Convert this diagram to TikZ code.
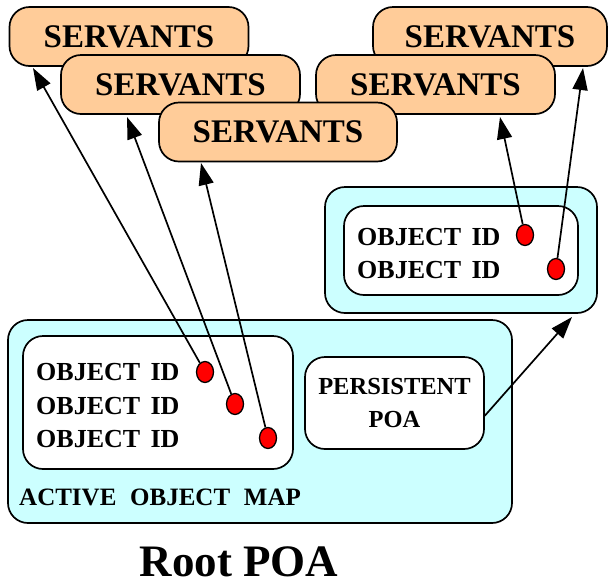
\documentclass[tikz,border=0pt]{standalone}
\usepackage{fontspec}
\setmainfont{Liberation Serif}
\usetikzlibrary{arrows.meta,shapes.geometric}
\definecolor{peach}{HTML}{FFCC99}
\definecolor{aqua}{HTML}{CCFFFF}
\begin{document}
\begin{tikzpicture}[x=1pt,y=-1pt,
 servant/.style={draw,line width=1.7pt,fill=peach,rounded corners=20pt,minimum width=239pt,minimum height=59pt,inner sep=0pt,font=\bfseries\fontsize{33}{33}\selectfont},
 outerbox/.style={draw,line width=1.7pt,fill=aqua,rounded corners=20pt,inner sep=0pt},
 innerbox/.style={draw,line width=1.7pt,fill=white,rounded corners=20pt,inner sep=0pt},
 oid/.style={anchor=base west,inner sep=0pt,font=\bfseries\fontsize{26}{26}\selectfont},
 dot/.style={draw,line width=1.3pt,fill=red,ellipse,minimum width=17pt,minimum height=21pt,inner sep=0pt},
 arr/.style={line width=1.7pt,-{Triangle[length=22pt,width=15pt]}}]
\useasboundingbox (0,0) rectangle (610,582);

% right POA
\node[outerbox,minimum width=272pt,minimum height=126pt] (rb) at (461,250) {};
\node[innerbox,minimum width=234pt,minimum height=89pt] (ri) at (461,250.5) {};
\node[oid] (ro1) at (357,245) {OBJECT\hspace{0.4em}ID};
\node[oid] (ro2) at (357,278) {OBJECT\hspace{0.4em}ID};
\node[dot] (d4) at (525,235) {};
\node[dot] (d5) at (556,269) {};

% root POA
\node[outerbox,minimum width=504pt,minimum height=203pt] (lb) at (260,421.5) {};
\node[innerbox,minimum width=270pt,minimum height=133pt] (li) at (158,402.5) {};
\node[oid] (lo1) at (36,380) {OBJECT\hspace{0.4em}ID};
\node[oid] (lo2) at (36,414) {OBJECT\hspace{0.4em}ID};
\node[oid] (lo3) at (36,447) {OBJECT\hspace{0.4em}ID};
\node[dot] (d1) at (205,372) {};
\node[dot] (d2) at (235,404) {};
\node[dot] (d3) at (268,438) {};
\node[innerbox,minimum width=179pt,minimum height=92pt,align=center,font=\bfseries\fontsize{24.5}{33}\selectfont] (pp) at (394.5,403) {PERSISTENT\\POA};
\node[oid,font=\bfseries\fontsize{25}{25}\selectfont] (aom) at (19,505) {ACTIVE\hspace{0.55em}OBJECT\hspace{0.55em}MAP};
\node[anchor=base,inner sep=0pt,font=\bfseries\fontsize{45}{45}\selectfont] (root) at (239,576) {Root POA};

% servants
\node[servant] (s1) at (129,36.5) {SERVANTS};
\node[servant] (s2) at (180.5,84.5) {SERVANTS};
\node[servant,minimum width=234pt] (s4) at (490,36.5) {SERVANTS};
\node[servant] (s5) at (435.5,84.5) {SERVANTS};
\node[servant,minimum width=238pt] (s3) at (278,132) {SERVANTS};

% arrow tips
\coordinate (t1) at (33,68);
\coordinate (t2) at (127,117);
\coordinate (t3) at (201,163);
\coordinate (t4) at (500,117);
\coordinate (t5) at (583,68);
\coordinate (t6) at (572,317);

\draw[arr] (d1) -- (t1);
\draw[arr] (d2) -- (t2);
\draw[arr] (d3) -- (t3);
\draw[arr] (d4) -- (t4);
\draw[arr] (d5) -- (t5);
\draw[arr] (pp.-8) -- (t6);
\end{tikzpicture}
\end{document}
